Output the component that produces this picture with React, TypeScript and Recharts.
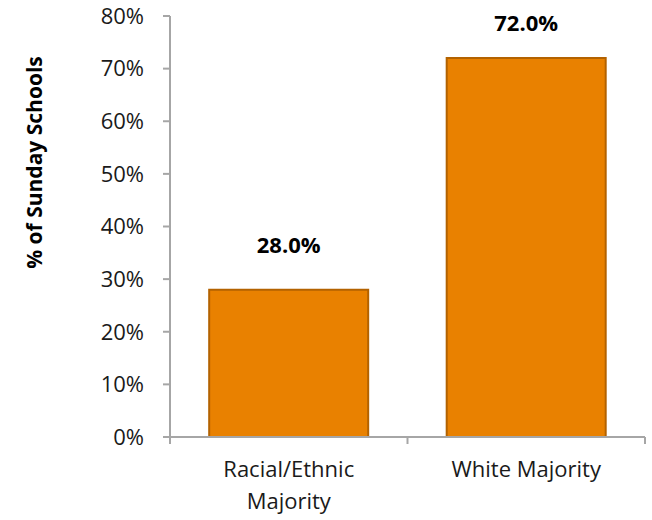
import { Bar, BarChart, LabelList, XAxis, YAxis } from 'recharts';

const categories = ['Racial/Ethnic Majority', 'White Majority'];
const shares = [0.28, 0.72];
const yTicks = [0, 0.1, 0.2, 0.3, 0.4, 0.5, 0.6, 0.7, 0.8];

const data = categories.map((name, i) => ({ name, share: shares[i] }));

const font = '"Open Sans", sans-serif';
const axisGray = '#a6a6a6';

// naive wrap: break long labels at the last space
function wrapLabel(s: string): string[] {
  if (s.length <= 16) return [s];
  const cut = s.lastIndexOf(' ');
  return [s.slice(0, cut), s.slice(cut + 1)];
}

function CategoryTick({ x, y, payload, index, visibleTicksCount }: any) {
  const half = payload.offset || 118.75;
  const lines = wrapLabel(String(payload.value));
  return (
    <g>
      <line x1={x - half} x2={x - half} y1={y} y2={y + 7} stroke={axisGray} strokeWidth={2} />
      {index === visibleTicksCount - 1 && (
        <line x1={x + half} x2={x + half} y1={y} y2={y + 7} stroke={axisGray} strokeWidth={2} />
      )}
      <text x={x} y={y + 40} textAnchor="middle" fontFamily={font} fontSize={22} fill="#1a1a1a">
        {lines.map((l, i) => (
          <tspan key={i} x={x} dy={i === 0 ? 0 : 32}>
            {l}
          </tspan>
        ))}
      </text>
    </g>
  );
}

function ValueLabel({ x, y, width, value }: any) {
  const baseline = Math.max(y - 37, 31);
  return (
    <text
      x={x + width / 2}
      y={baseline}
      textAnchor="middle"
      fontFamily={font}
      fontWeight="bold"
      fontSize={22}
      fill="#000"
    >
      {(value * 100).toFixed(1)}%
    </text>
  );
}

export default function App() {
  return (
    <div style={{ position: 'fixed', left: 0, top: 0, background: '#fff' }}>
      <BarChart
        width={652}
        height={520}
        data={data}
        margin={{ top: 16, right: 7, left: 0, bottom: 0 }}
        barCategoryGap="16.5%"
      >
        <XAxis
          dataKey="name"
          stroke={axisGray}
          strokeWidth={2}
          tickLine={false}
          tickSize={0}
          tickMargin={0}
          interval={0}
          height={83}
          tick={<CategoryTick />}
        />
        <YAxis
          width={170}
          domain={[0, 0.8]}
          ticks={yTicks}
          interval={0}
          tickFormatter={(v: number) => `${Math.round(v * 100)}%`}
          stroke={axisGray}
          strokeWidth={2}
          tickSize={7}
          tickMargin={19}
          tick={{ fill: '#1a1a1a', fontSize: 22, fontFamily: font }}
          label={{
            value: '% of Sunday Schools',
            angle: -90,
            position: 'insideLeft',
            offset: 35,
            dy: -64,
            style: { textAnchor: 'middle', fontFamily: font, fontWeight: 'bold', fontSize: 21, fill: '#000' },
          }}
        />
        <Bar dataKey="share" fill="#e98100" stroke="#b36200" strokeWidth={2} isAnimationActive={false}>
          <LabelList dataKey="share" content={<ValueLabel />} />
        </Bar>
      </BarChart>
    </div>
  );
}
